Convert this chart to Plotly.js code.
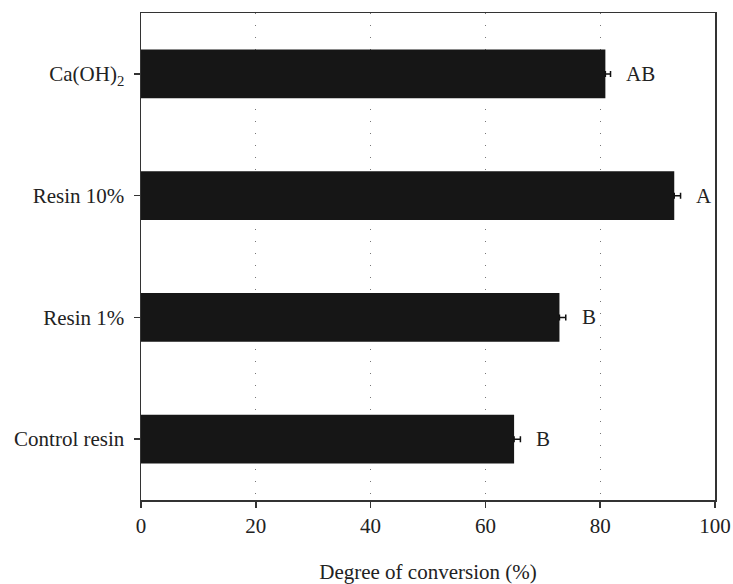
<!DOCTYPE html>
<html>
<head>
<meta charset="utf-8">
<script src="https://cdn.plot.ly/plotly-3.0.1.min.js"></script>
<style>html,body{margin:0;padding:0;background:#fff;}#chart{width:733px;height:584px;}</style>
</head>
<body>
<div id="chart"></div>
<script>
const categories = ["Control resin", "Resin 1%", "Resin 10%", "Ca(OH)<sub>2</sub>"];
const values = [65.0, 72.9, 92.9, 80.9];
const errors = [1.1, 1.1, 1.1, 0.9];
const letters = ["B", "B", "A", "AB"];
const xTicks = [0, 20, 40, 60, 80, 100];

const FONT = "Liberation Serif, Times New Roman, serif";
const FS = 21;

const trace = {
  type: "bar",
  orientation: "h",
  x: values,
  y: categories,
  marker: {color: "#161616", line: {width: 0}},
  error_x: {type: "data", symmetric: false, array: errors, arrayminus: errors.map(() => 0),
            color: "#111", thickness: 1.5, width: 3},
  hoverinfo: "none"
};

const annotations = categories.map((c, i) => ({
  x: values[i] + errors[i] + 2.4,
  y: c,
  xref: "x", yref: "y",
  text: letters[i],
  showarrow: false,
  xanchor: "left",
  yanchor: "middle",
  font: {family: FONT, size: FS, color: "#222"}
}));

const layout = {
  width: 733, height: 584,
  margin: {l: 140.5, r: 18, t: 12.7, b: 84},
  paper_bgcolor: "#fff", plot_bgcolor: "#fff",
  bargap: 0.6,
  showlegend: false,
  font: {family: FONT, size: FS, color: "#222"},
  xaxis: {
    range: [0, 100],
    tickvals: xTicks,
    ticktext: xTicks.map(String),
    showline: true, linecolor: "#333", linewidth: 1.5, mirror: true,
    ticks: "outside", ticklen: 6, tickwidth: 1.5, tickcolor: "#333",
    showgrid: true, gridcolor: "#777", gridwidth: 1, griddash: "1px,11px",
    zeroline: false,
    tickfont: {family: FONT, size: FS, color: "#222"},
    title: {text: "Degree of conversion (%)", font: {family: FONT, size: FS, color: "#222"}, standoff: 30}
  },
  yaxis: {
    showline: true, linecolor: "#333", linewidth: 1.5, mirror: true,
    ticks: "outside", ticklen: 6, tickwidth: 1.5, tickcolor: "#333",
    showgrid: false, zeroline: false,
    tickfont: {family: FONT, size: FS, color: "#222"},
    ticklabelstandoff: 5
  },
  annotations: annotations
};

Plotly.newPlot("chart", [trace], layout, {displayModeBar: false, staticPlot: true});
</script>
</body>
</html>
